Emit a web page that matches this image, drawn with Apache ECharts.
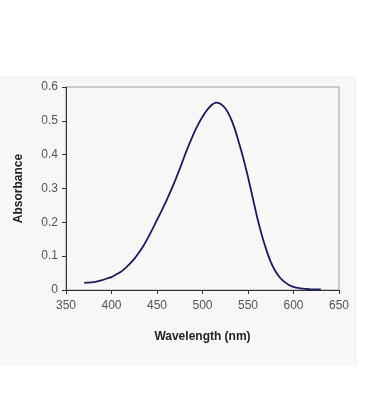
<!DOCTYPE html>
<html>
<head>
<meta charset="utf-8">
<script src="https://cdn.jsdelivr.net/npm/echarts@6/dist/echarts.min.js"></script>
<style>
html,body{margin:0;padding:0;background:#ffffff;}
#c{width:370px;height:420px;}
</style>
</head>
<body>
<div id="c"></div>
<script>
var wavelengths = [370,375,380,385,390,395,400,405,410,415,420,425,430,435,440,445,450,455,460,465,470,475,480,485,490,495,500,505,510,515,520,525,530,535,540,545,550,555,560,565,570,575,580,585,590,595,600,605,610,615,620,625,630];
var absorbance = [0.021,0.022,0.023,0.026,0.029,0.034,0.038,0.046,0.053,0.064,0.077,0.092,0.110,0.130,0.154,0.180,0.207,0.234,0.262,0.292,0.324,0.358,0.394,0.428,0.460,0.488,0.512,0.532,0.547,0.554,0.550,0.537,0.514,0.480,0.436,0.388,0.334,0.275,0.216,0.164,0.120,0.083,0.056,0.037,0.024,0.015,0.009,0.006,0.004,0.003,0.002,0.002,0.002];
var xTicks = [350,400,450,500,550,600,650];
var yTicks = [0,0.1,0.2,0.3,0.4,0.5,0.6];

var pts = wavelengths.map(function(w,i){return [w, absorbance[i]];});
var chart = echarts.init(document.getElementById('c'), null, {renderer:'canvas'});
chart.setOption({
  backgroundColor:'#ffffff',
  animation:false,
  graphic:[{type:'rect',z:-10,shape:{x:0,y:76,width:357,height:290},style:{fill:'#f7f7f7'}}],
  grid:{left:66,top:87,right:31,bottom:130,show:true,borderColor:'#a0a0a0',borderWidth:1,backgroundColor:'transparent'},
  xAxis:{type:'value',min:xTicks[0],max:xTicks[xTicks.length-1],interval:50,
    name:'Wavelength (nm)',nameLocation:'middle',nameGap:41,
    nameTextStyle:{fontFamily:'Liberation Sans, Arial',fontWeight:'bold',fontSize:12,color:'#222'},
    axisLine:{lineStyle:{color:'#333',width:1}},
    axisTick:{show:true,inside:false,length:4,lineStyle:{color:'#333'}},
    axisLabel:{margin:10,fontFamily:'Liberation Sans, Arial',fontSize:12,color:'#555'},
    splitLine:{show:false}},
  yAxis:{type:'value',min:yTicks[0],max:yTicks[yTicks.length-1],interval:0.1,
    name:'Absorbance',nameLocation:'middle',nameGap:41,
    nameTextStyle:{fontFamily:'Liberation Sans, Arial',fontWeight:'bold',fontSize:12,color:'#222'},
    axisLine:{show:true,lineStyle:{color:'#333',width:1}},
    axisTick:{show:true,inside:false,length:4,lineStyle:{color:'#333'}},
    axisLabel:{margin:8,fontFamily:'Liberation Sans, Arial',fontSize:12,color:'#555',
      formatter:function(v){return v===0?'0':v.toFixed(1);}},
    splitLine:{show:false}},
  series:[{type:'line',data:pts,smooth:0.3,showSymbol:false,symbol:'none',
    lineStyle:{color:'#1c1c5c',width:1.8}}]
});
</script>
</body>
</html>
